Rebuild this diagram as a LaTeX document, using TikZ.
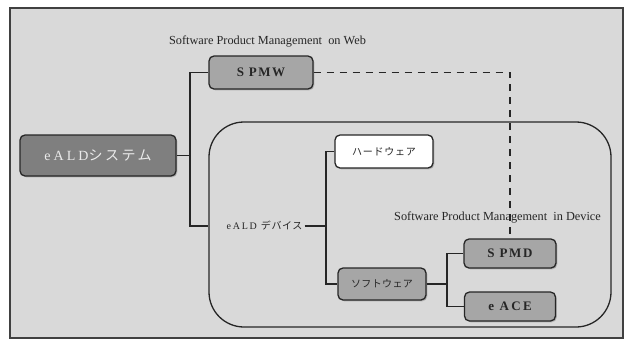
\documentclass[tikz,border=0pt]{standalone}
\usepackage{fontspec}
\setmainfont{Liberation Serif}
\newfontfamily\jpfont{Noto Sans CJK JP}
\usetikzlibrary{shadows}
% letter-spaced Latin and Japanese runs
\newcommand\lsp[2]{{\addfontfeatures{LetterSpace=#1}#2}}
\newcommand\jplsp[2]{{\jpfont\addfontfeatures{LetterSpace=#1}#2}}
\definecolor{panelgray}{HTML}{D9D9D9}
\definecolor{boxgray}{HTML}{A6A6A6}
\definecolor{darkbox}{HTML}{7F7F7F}
\definecolor{inkgray}{HTML}{262626}
\begin{document}
\begin{tikzpicture}[x=1pt,y=-1pt,
  box/.style={draw=inkgray, line width=1.3pt, rounded corners=5pt, fill=boxgray,
    inner sep=0pt, text=inkgray,
    drop shadow={shadow xshift=1.3pt, shadow yshift=-1.3pt, opacity=0.45}},
  conn/.style={line width=1.8pt, draw=inkgray},
  link/.style={conn, dash pattern=on 7pt off 6pt},
  caption/.style={inner sep=0pt, text=black!85, font=\fontsize{12.3}{14}\selectfont}]
  \useasboundingbox (0,0) rectangle (627,340);
  \fill[white] (0,0) rectangle (627,340);
  % panel
  \draw[fill=panelgray, draw=black!75, line width=1.5pt] (10,8) rectangle (623,338);
  % device enclosure
  \node[draw=inkgray, line width=1.3pt, rounded corners=35pt, minimum width=402pt,
        minimum height=205pt, inner sep=0pt] (dbox) at (410,224.5) {};

  % boxes
  \node[box, fill=darkbox, text=white!92!black, minimum width=156pt, minimum height=41pt] (eald) at (98,155.5)
    {\fontsize{14}{16}\selectfont\lsp{22}{eALD}\jplsp{18}{システム}};
  \node[box, minimum width=104pt, minimum height=33pt] (spmw) at (261,72.5)
    {\fontsize{13}{15}\selectfont\bfseries\lsp{12}{S PMW}};
  \node[box, fill=white, minimum width=98pt, minimum height=33pt] (hw) at (384,151.5)
    {\fontsize{10}{12}\selectfont\jplsp{8}{ハードウェア}};
  \node[box, minimum width=88pt, minimum height=32pt] (sw) at (382,284)
    {\fontsize{10}{12}\selectfont\jplsp{4}{ソフトウェア}};
  \node[box, minimum width=92pt, minimum height=29pt] (spmd) at (510,253.5)
    {\fontsize{13}{15}\selectfont\bfseries\lsp{13}{S PMD}};
  \node[box, minimum width=91pt, minimum height=29pt] (eace) at (510,306.5)
    {\fontsize{13}{15}\selectfont\bfseries\lsp{18}{e ACE}};

  % plain labels
  \node[inner sep=2pt, text=inkgray] (dev) at (264.5,226)
    {\fontsize{10}{12}\selectfont\lsp{18}{eALD}\hspace{4pt}\jplsp{6}{デバイス}};
  \node[caption] (webcap) at (267.5,41) {Software Product Management\ \ on Web};
  \node[caption] (devcap) at (497.5,217) {Software Product Management\ \ in Device};

  % trunk positions
  \coordinate (t1) at (190,0);
  \coordinate (t2) at (326,0);
  \coordinate (t3) at (447,0);

  % tree connectors
  \draw[conn] (eald.east) -- (eald.east -| t1);
  \draw[conn] (spmw.west) -- (spmw.west -| t1) -- (dev.west -| t1) -- (dev.west -| dbox.west);
  \draw[conn] (dev.east) -- (dev.east -| t2);
  \draw[conn] (hw.west) -- (hw.west -| t2) -- (sw.west -| t2) -- (sw.west);
  \draw[conn] (sw.east) -- (sw.east -| t3);
  \draw[conn] (spmd.west) -- (spmd.west -| t3) -- (eace.west -| t3) -- (eace.west);

  % web-to-device link
  \draw[link] (spmw.east) -- (spmw.east -| spmd.north) -- (spmd.north);
\end{tikzpicture}
\end{document}
